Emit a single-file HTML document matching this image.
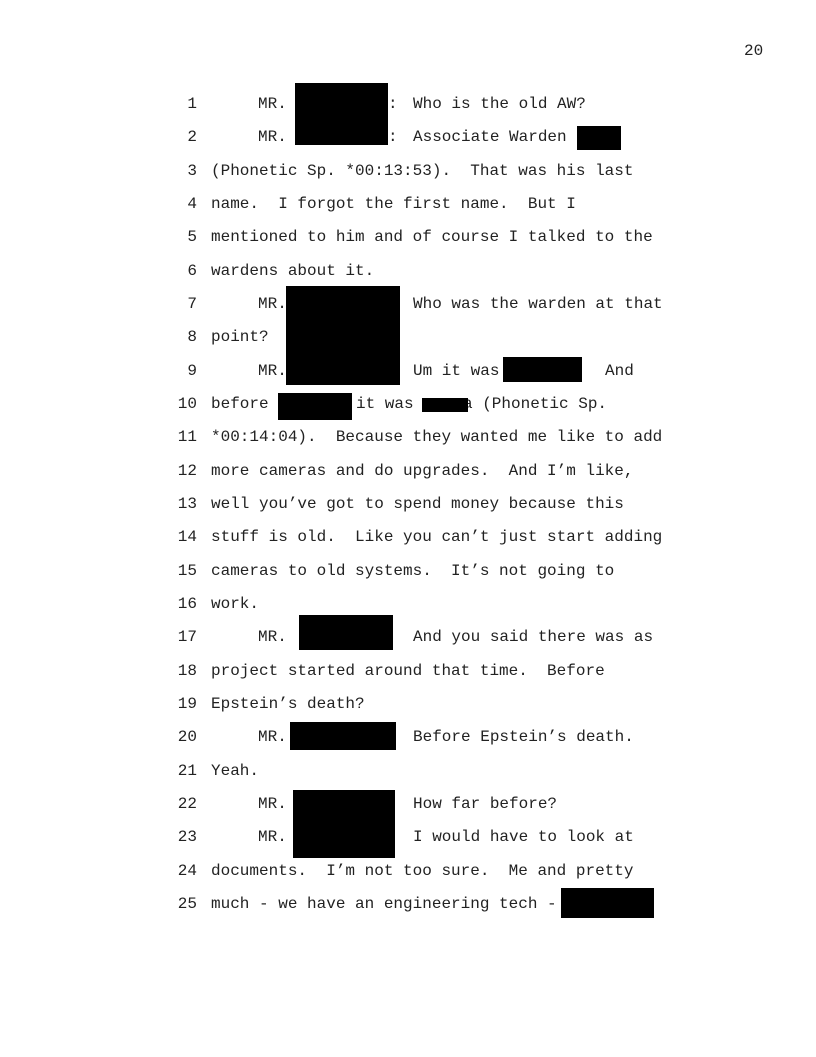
<!DOCTYPE html>
<html><head><meta charset="utf-8"><style>
html,body{margin:0;padding:0;background:#fff}
body{width:816px;height:1056px;position:relative;overflow:hidden;font-family:"Liberation Mono",monospace;font-size:16px;color:#222}
.t{position:absolute;line-height:20px;white-space:pre}
.n{position:absolute;line-height:20px;width:30px;text-align:right;left:167px}
.r{position:absolute;background:#000}
</style></head><body>
<div class="t" style="left:744px;top:41px">20</div>
<div style="position:absolute;left:0;top:1px;width:816px;height:1056px">
<div class="n" style="top:93px">1</div><div class="t" style="left:258px;top:93px">MR.</div><div class="t" style="left:388px;top:93px">:</div><div class="t" style="left:413px;top:93px">Who is the old AW?</div>
<div class="n" style="top:126px">2</div><div class="t" style="left:258px;top:126px">MR.</div><div class="t" style="left:388px;top:126px">:</div><div class="t" style="left:413px;top:126px">Associate Warden</div>
<div class="n" style="top:160px">3</div><div class="t" style="left:211px;top:160px">(Phonetic Sp. *00:13:53).  That was his last</div>
<div class="n" style="top:193px">4</div><div class="t" style="left:211px;top:193px">name.  I forgot the first name.  But I</div>
<div class="n" style="top:226px">5</div><div class="t" style="left:211px;top:226px">mentioned to him and of course I talked to the</div>
<div class="n" style="top:260px">6</div><div class="t" style="left:211px;top:260px">wardens about it.</div>
<div class="n" style="top:293px">7</div><div class="t" style="left:258px;top:293px">MR.</div><div class="t" style="left:413px;top:293px">Who was the warden at that</div>
<div class="n" style="top:326px">8</div><div class="t" style="left:211px;top:326px">point?</div>
<div class="n" style="top:360px">9</div><div class="t" style="left:258px;top:360px">MR.</div><div class="t" style="left:413px;top:360px">Um it was</div><div class="t" style="left:605px;top:360px">And</div>
<div class="n" style="top:393px">10</div><div class="t" style="left:211px;top:393px">before</div><div class="t" style="left:356px;top:393px">it was</div><div class="t" style="left:463px;top:393px">a (Phonetic Sp.</div>
<div class="n" style="top:426px">11</div><div class="t" style="left:211px;top:426px">*00:14:04).  Because they wanted me like to add</div>
<div class="n" style="top:460px">12</div><div class="t" style="left:211px;top:460px">more cameras and do upgrades.  And I’m like,</div>
<div class="n" style="top:493px">13</div><div class="t" style="left:211px;top:493px">well you’ve got to spend money because this</div>
<div class="n" style="top:526px">14</div><div class="t" style="left:211px;top:526px">stuff is old.  Like you can’t just start adding</div>
<div class="n" style="top:560px">15</div><div class="t" style="left:211px;top:560px">cameras to old systems.  It’s not going to</div>
<div class="n" style="top:593px">16</div><div class="t" style="left:211px;top:593px">work.</div>
<div class="n" style="top:626px">17</div><div class="t" style="left:258px;top:626px">MR.</div><div class="t" style="left:413px;top:626px">And you said there was as</div>
<div class="n" style="top:660px">18</div><div class="t" style="left:211px;top:660px">project started around that time.  Before</div>
<div class="n" style="top:693px">19</div><div class="t" style="left:211px;top:693px">Epstein’s death?</div>
<div class="n" style="top:726px">20</div><div class="t" style="left:258px;top:726px">MR.</div><div class="t" style="left:413px;top:726px">Before Epstein’s death.</div>
<div class="n" style="top:760px">21</div><div class="t" style="left:211px;top:760px">Yeah.</div>
<div class="n" style="top:793px">22</div><div class="t" style="left:258px;top:793px">MR.</div><div class="t" style="left:413px;top:793px">How far before?</div>
<div class="n" style="top:826px">23</div><div class="t" style="left:258px;top:826px">MR.</div><div class="t" style="left:413px;top:826px">I would have to look at</div>
<div class="n" style="top:860px">24</div><div class="t" style="left:211px;top:860px">documents.  I’m not too sure.  Me and pretty</div>
<div class="n" style="top:893px">25</div><div class="t" style="left:211px;top:893px">much - we have an engineering tech -</div>
</div>
<div class="r" style="left:295px;top:83px;width:93px;height:62px"></div>
<div class="r" style="left:577px;top:126px;width:44px;height:24px"></div>
<div class="r" style="left:286px;top:286px;width:114px;height:99px"></div>
<div class="r" style="left:503px;top:357px;width:79px;height:25px"></div>
<div class="r" style="left:278px;top:393px;width:74px;height:27px"></div>
<div class="r" style="left:422px;top:398px;width:46px;height:14px"></div>
<div class="r" style="left:299px;top:615px;width:94px;height:35px"></div>
<div class="r" style="left:290px;top:722px;width:106px;height:28px"></div>
<div class="r" style="left:293px;top:790px;width:102px;height:68px"></div>
<div class="r" style="left:561px;top:888px;width:93px;height:30px"></div>
</body></html>
